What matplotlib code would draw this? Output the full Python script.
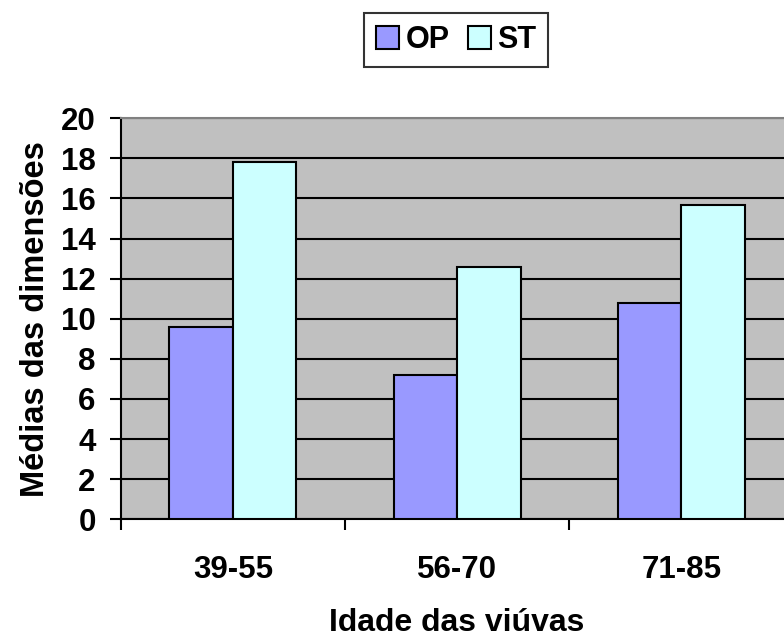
import matplotlib
matplotlib.use("Agg")
import matplotlib.pyplot as plt
import numpy as np
from matplotlib.patches import Patch

plt.rcParams['font.family'] = ['Liberation Sans', 'DejaVu Sans']
plt.rcParams['font.weight'] = 'bold'

categories = ["39-55", "56-70", "71-85"]
series_names = ["OP", "ST"]
op_values = [9.6, 7.2, 10.8]
st_values = [17.8, 12.6, 15.7]
y_ticks = [0, 2, 4, 6, 8, 10, 12, 14, 16, 18, 20]

colors = {"OP": "#9999FF", "ST": "#CCFFFF"}

fig = plt.figure(figsize=(7.84, 6.37), dpi=100)
ax = fig.add_axes([0.154, 0.1848, 1.0122 - 0.154, 0.8143 - 0.1848])
ax.set_facecolor("#C0C0C0")

x = np.arange(len(categories))
w = 0.283
ax.bar(x - w / 2, op_values, width=w, color=colors["OP"], edgecolor="black",
       linewidth=1.5, zorder=3)
ax.bar(x + w / 2, st_values, width=w, color=colors["ST"], edgecolor="black",
       linewidth=1.5, zorder=3)

ax.set_xlim(-0.5, len(categories) - 0.5)
ax.set_ylim(0, 20)
ax.set_yticks(y_ticks)
ax.set_yticklabels([str(t) for t in y_ticks], fontsize=22.5, fontweight='bold')
ax.yaxis.grid(True, color="black", linewidth=1.5, zorder=1)
ax.set_axisbelow(True)

ax.set_xticks(x)
ax.set_xticklabels(categories, fontsize=22.5, fontweight='bold')
ax.tick_params(axis='x', which='major', length=0, pad=26)
ax.set_xticks(np.arange(len(categories) + 1) - 0.5, minor=True)
ax.tick_params(axis='x', which='minor', length=8, width=1.5, direction='out')
ax.tick_params(axis='y', which='major', length=8, width=1.5, direction='out', pad=10)

for side in ("left", "bottom"):
    ax.spines[side].set_linewidth(1.5)
    ax.spines[side].set_color("black")
ax.spines["top"].set_color("#808080")
ax.spines["top"].set_linewidth(1.5)
ax.spines["right"].set_visible(False)

ax.set_ylabel("Médias das dimensões", fontsize=23.5, fontweight='bold', labelpad=7)
ax.set_xlabel("Idade das viúvas", fontsize=23, fontweight='bold', labelpad=16)

handles = [Patch(facecolor=colors[n], edgecolor="black", linewidth=1.5) for n in series_names]
leg = fig.legend(handles, series_names, loc="center", bbox_to_anchor=(456 / 784, 1 - 40 / 637),
                 ncol=2, frameon=True, fancybox=False, handlelength=0.75,
                 handleheight=0.75, handletextpad=0.2, columnspacing=0.6,
                 borderpad=0.4, prop={'weight': 'bold', 'size': 22})
leg.get_frame().set_edgecolor("black")
leg.get_frame().set_linewidth(1.5)

fig.savefig("out.png", dpi=100)
